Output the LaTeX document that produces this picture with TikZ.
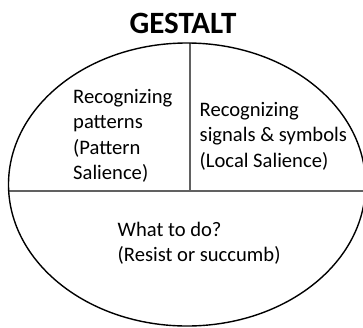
\documentclass[tikz,border=0pt]{standalone}
\usepackage{fontspec}
\setmainfont{Carlito}
\begin{document}
\begin{tikzpicture}[x=1pt,y=-1pt,
  body/.style={anchor=base west,inner sep=0pt,align=left,font=\fontsize{20.6}{25.4}\selectfont},
  divider/.style={draw=black!62,line width=1.5pt},
  rim/.style={draw=black,line width=1.4pt}]
\useasboundingbox (0,0) rectangle (363,327);
\clip (0,0) rectangle (363,327);
\node[anchor=base,inner sep=0pt,font=\fontsize{31}{32}\selectfont\bfseries] (title) at (183,33.3) {GESTALT};
\coordinate (top) at (190,43);
\coordinate (mid) at (190,191);
\coordinate (left) at (8.5,191);
\coordinate (right) at (363,191);
\draw[divider] (top) -- (mid);
\draw[divider] (left) -- (right);
\draw[rim] (187,184.5) ellipse [x radius=178.5pt, y radius=141.5pt];
\node[body] (pat) at (73,179.5) {Recognizing\\patterns\\(Pattern\\Salience)};
\node[body] (sig) at (199.5,167.3) {Recognizing\\signals \& symbols\\(Local Salience)};
\node[body] (do) at (117.5,261.7) {What to do?\\(Resist or succumb)};
\end{tikzpicture}
\end{document}
